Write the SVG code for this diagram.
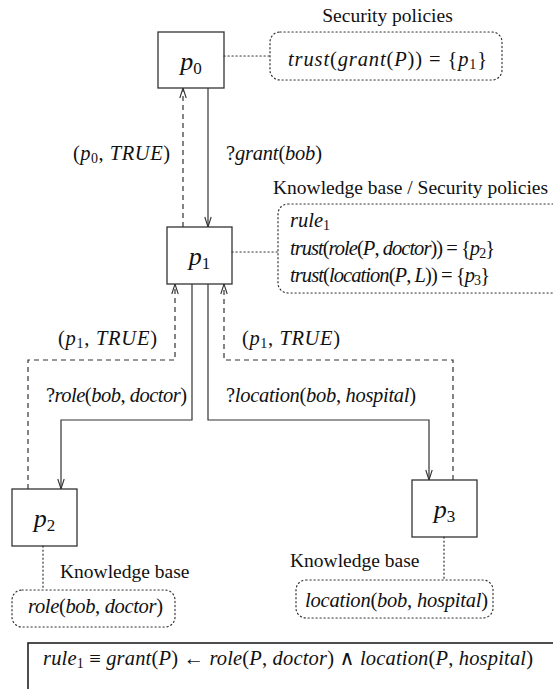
<svg xmlns="http://www.w3.org/2000/svg" width="553" height="689" viewBox="0 0 553 689">
<style>
.bg{fill:#fff}
.node{fill:#fff;stroke:#333;stroke-width:1.3}
.kb{fill:none;stroke:#333;stroke-width:1.2;stroke-dasharray:1.2 2.8;stroke-linecap:round}
.dot{fill:none;stroke:#333;stroke-width:1.2;stroke-dasharray:1.2 2.8;stroke-linecap:round}
.req{fill:none;stroke:#333;stroke-width:1.2}
.rsp{fill:none;stroke:#333;stroke-width:1.2;stroke-dasharray:5 4}
.t{font-family:"Liberation Serif","DejaVu Serif",serif;font-size:19.5px;fill:#111}
.m{font-family:"Liberation Serif","DejaVu Serif",serif;font-size:20.5px;font-style:italic;fill:#111}
.pl{font-family:"Liberation Serif","DejaVu Serif",serif;font-size:26px;font-style:italic;fill:#111}
.u{font-style:normal}
.s{font-style:normal;font-size:14px}
.ps{font-style:normal;font-size:17px}
.rule{fill:#fff;stroke:#222;stroke-width:1.6}
</style>
<defs>
<marker id="ah" markerUnits="userSpaceOnUse" markerWidth="14" markerHeight="10" refX="10" refY="3.2" orient="auto" overflow="visible">
<path d="M0,0 L10,3.2 L0,6.4" fill="none" stroke="#333" stroke-width="1.1" stroke-dasharray="none"/>
</marker>
</defs>
<rect class="bg" x="0" y="0" width="553" height="689"/>

<g id="connectors">
<line class="req" x1="208" y1="88" x2="208" y2="227" marker-end="url(#ah)"/>
<line class="rsp" x1="183" y1="227" x2="183" y2="88" marker-end="url(#ah)"/>
<polyline class="req" points="192,284 192,420 61,420 61,489" marker-end="url(#ah)"/>
<polyline class="rsp" points="28,489 28,360 175,360 175,284" marker-end="url(#ah)"/>
<polyline class="req" points="208,284 208,420 429,420 429,480" marker-end="url(#ah)"/>
<polyline class="rsp" points="453,480 453,360 224,360 224,284" marker-end="url(#ah)"/>
<text class="m" x="73" y="160" textLength="97"><tspan class="u">(</tspan>p<tspan class="s" dy="3">0</tspan><tspan class="u" dy="-3">, </tspan>TRUE<tspan class="u">)</tspan></text>
<text class="m" x="226" y="160" textLength="96"><tspan class="u">?</tspan>grant<tspan class="u">(</tspan>bob<tspan class="u">)</tspan></text>
<text class="m" x="58" y="345" textLength="99"><tspan class="u">(</tspan>p<tspan class="s" dy="3">1</tspan><tspan class="u" dy="-3">, </tspan>TRUE<tspan class="u">)</tspan></text>
<text class="m" x="242" y="345" textLength="98"><tspan class="u">(</tspan>p<tspan class="s" dy="3">1</tspan><tspan class="u" dy="-3">, </tspan>TRUE<tspan class="u">)</tspan></text>
<text class="m" x="46" y="402" textLength="141"><tspan class="u">?</tspan>role<tspan class="u">(</tspan>bob<tspan class="u">, </tspan>doctor<tspan class="u">)</tspan></text>
<text class="m" x="226" y="402" textLength="190"><tspan class="u">?</tspan>location<tspan class="u">(</tspan>bob<tspan class="u">, </tspan>hospital<tspan class="u">)</tspan></text>
</g>

<g id="p0">
<rect class="node" x="158" y="32" width="66" height="56"/>
<text class="pl" x="191" y="70" text-anchor="middle">p<tspan class="ps" dy="4">0</tspan></text>
</g>
<g id="p0-policies">
<line class="dot" x1="224" y1="56" x2="270" y2="56"/>
<text class="t" x="387.5" y="22" text-anchor="middle">Security policies</text>
<rect class="kb" x="270" y="32" width="232" height="48" rx="10"/>
<text class="m" x="288" y="66" textLength="199">trust<tspan class="u">(</tspan>grant<tspan class="u">(</tspan>P<tspan class="u">)) = {</tspan>p<tspan class="s" dy="3">1</tspan><tspan class="u" dy="-3">}</tspan></text>
</g>

<g id="p1">
<rect class="node" x="167" y="227" width="65" height="57"/>
<text class="pl" x="199.5" y="265" text-anchor="middle">p<tspan class="ps" dy="4">1</tspan></text>
</g>
<g id="p1-kb">
<line class="dot" x1="232" y1="252" x2="278" y2="252"/>
<text class="t" x="273" y="194">Knowledge base / Security policies</text>
<rect class="kb" x="278" y="204" width="300" height="89" rx="10"/>
<text class="m" x="290" y="227" textLength="40">rule<tspan class="s" dy="3">1</tspan></text>
<text class="m" x="290" y="255" textLength="205">trust<tspan class="u">(</tspan>role<tspan class="u">(</tspan>P<tspan class="u">, </tspan>doctor<tspan class="u">)) = {</tspan>p<tspan class="s" dy="3">2</tspan><tspan class="u" dy="-3">}</tspan></text>
<text class="m" x="290" y="282" textLength="200">trust<tspan class="u">(</tspan>location<tspan class="u">(</tspan>P<tspan class="u">, </tspan>L<tspan class="u">)) = {</tspan>p<tspan class="s" dy="3">3</tspan><tspan class="u" dy="-3">}</tspan></text>
</g>

<g id="p2">
<rect class="node" x="12" y="489" width="65" height="57"/>
<text class="pl" x="44.5" y="527" text-anchor="middle">p<tspan class="ps" dy="4">2</tspan></text>
</g>
<g id="p2-kb">
<line class="dot" x1="43" y1="546" x2="43" y2="590"/>
<text class="t" x="60" y="578">Knowledge base</text>
<rect class="kb" x="12" y="590" width="163" height="37" rx="10"/>
<text class="m" x="28" y="613" textLength="135">role<tspan class="u">(</tspan>bob<tspan class="u">, </tspan>doctor<tspan class="u">)</tspan></text>
</g>

<g id="p3">
<rect class="node" x="412" y="480" width="65" height="57"/>
<text class="pl" x="444.5" y="518" text-anchor="middle">p<tspan class="ps" dy="4">3</tspan></text>
</g>
<g id="p3-kb">
<line class="dot" x1="444" y1="537" x2="444" y2="580"/>
<text class="t" x="290" y="567">Knowledge base</text>
<rect class="kb" x="296" y="580" width="197" height="38" rx="10"/>
<text class="m" x="305" y="607" textLength="183">location<tspan class="u">(</tspan>bob<tspan class="u">, </tspan>hospital<tspan class="u">)</tspan></text>
</g>

<g id="rule-box">
<rect class="rule" x="28" y="643" width="600" height="100"/>
<text class="m" x="43" y="665" textLength="490">rule<tspan class="s" dy="3">1</tspan><tspan class="u" dy="-3"> ≡ </tspan>grant<tspan class="u">(</tspan>P<tspan class="u">) ← </tspan>role<tspan class="u">(</tspan>P<tspan class="u">, </tspan>doctor<tspan class="u">) ∧ </tspan>location<tspan class="u">(</tspan>P<tspan class="u">, </tspan>hospital<tspan class="u">)</tspan></text>
</g>
</svg>
